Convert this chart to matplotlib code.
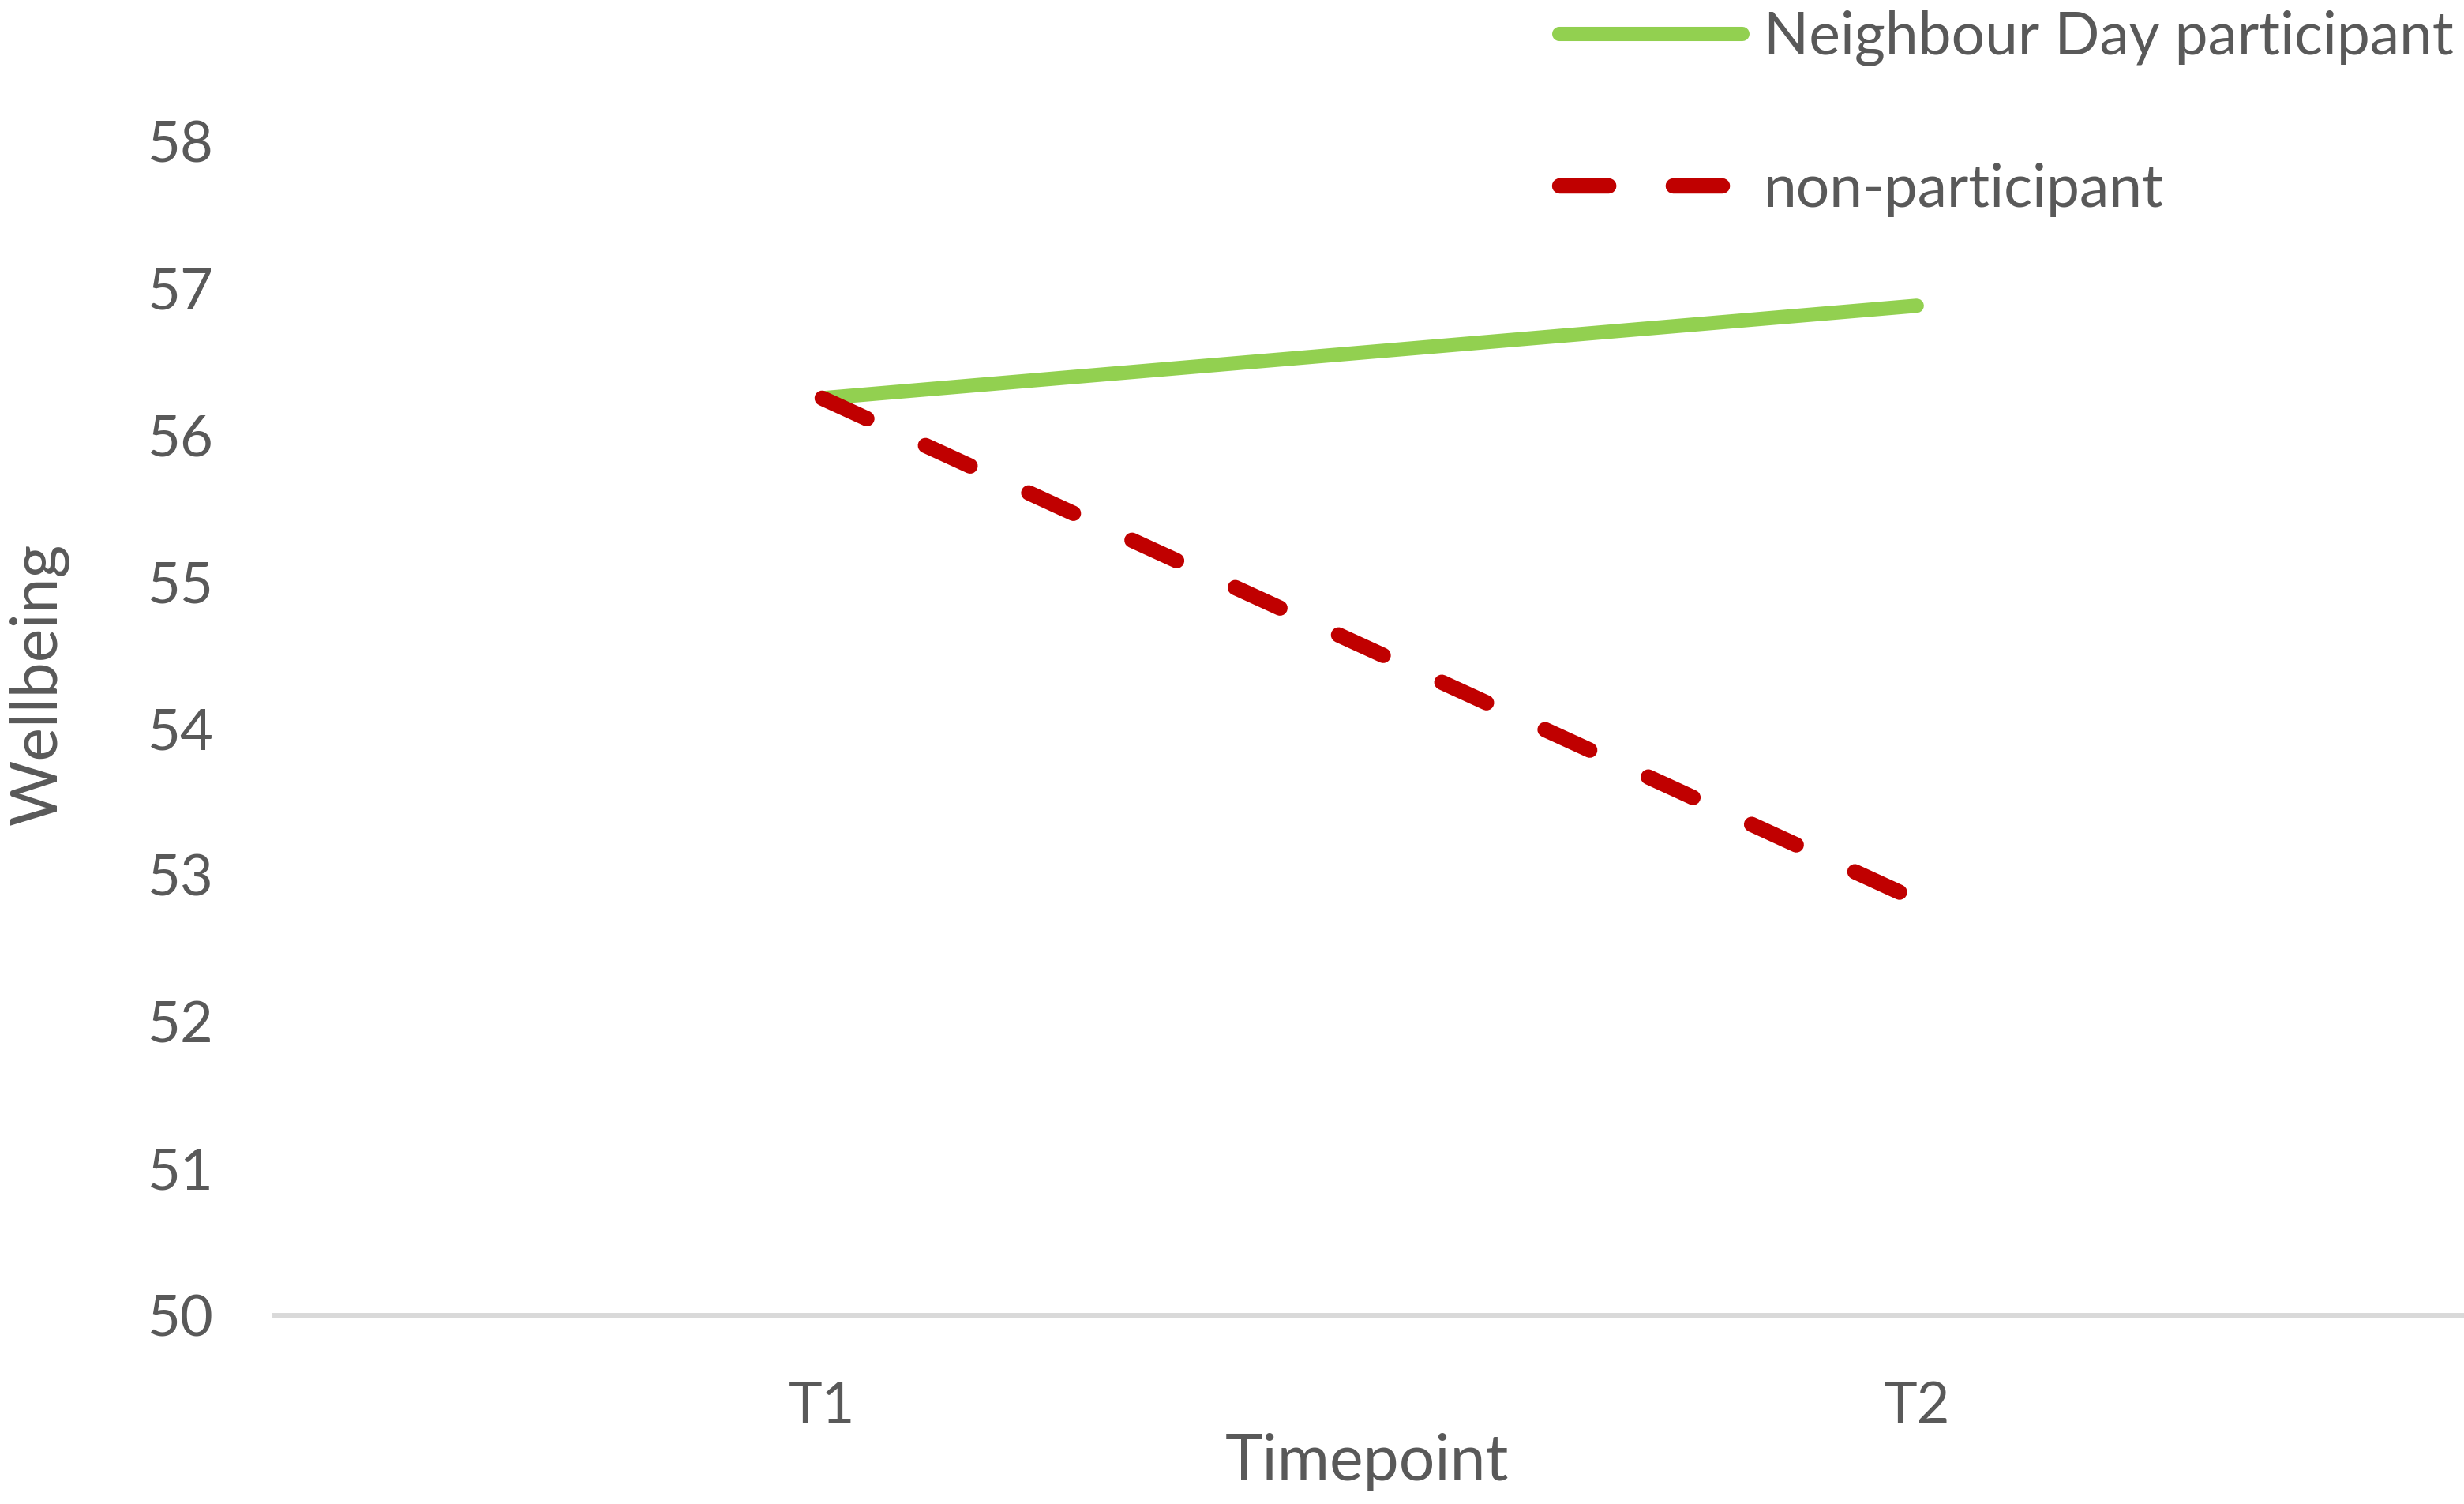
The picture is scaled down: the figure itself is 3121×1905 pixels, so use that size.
import matplotlib
matplotlib.use('Agg')
import matplotlib.pyplot as plt

# Data
timepoints = ['T1', 'T2']
participant = [56.25, 56.88]
non_participant = [56.25, 52.83]
y_ticks = [50, 51, 52, 53, 54, 55, 56, 57, 58]

text_color = '#595959'
plt.rcParams['font.family'] = ['Lato', 'DejaVu Sans']

fig = plt.figure(figsize=(15.605, 9.525), dpi=200)
ax = fig.add_axes([0.1116, 0.1254, 0.8884, 0.7806])

x = list(range(len(timepoints)))
ax.plot(x, participant, color='#92d050', linewidth=6.5,
        solid_capstyle='round', label='Neighbour Day participant')
ax.plot(x, non_participant, color='#c00000', linewidth=7,
        dashes=(3.2, 4.2), dash_capstyle='round', label='non-participant')

ax.set_xlim(-0.5, 1.5)
ax.set_ylim(50, 58)
ax.set_xticks(x)
ax.set_xticklabels(timepoints)
ax.set_yticks(y_ticks)

for side in ['top', 'right', 'left']:
    ax.spines[side].set_visible(False)
ax.spines['bottom'].set_color('#d9d9d9')
ax.spines['bottom'].set_linewidth(2.5)

ax.tick_params(axis='both', length=0, labelsize=26, labelcolor=text_color)
ax.tick_params(axis='y', pad=28)
ax.tick_params(axis='x', pad=30)

ax.set_xlabel('Timepoint', fontsize=29, color=text_color)
ax.xaxis.set_label_coords(0.499, -0.100)
ax.set_ylabel('Wellbeing', fontsize=29, color=text_color)
ax.yaxis.set_label_coords(-0.094, 0.538)

fig.legend(loc='upper right', bbox_to_anchor=(0.998, 0.997), frameon=False,
           fontsize=27, labelcolor=text_color, handlelength=3.1,
           handletextpad=0.35, labelspacing=1.62, borderpad=0.1,
           borderaxespad=0)

fig.savefig('out.png', dpi=200)
